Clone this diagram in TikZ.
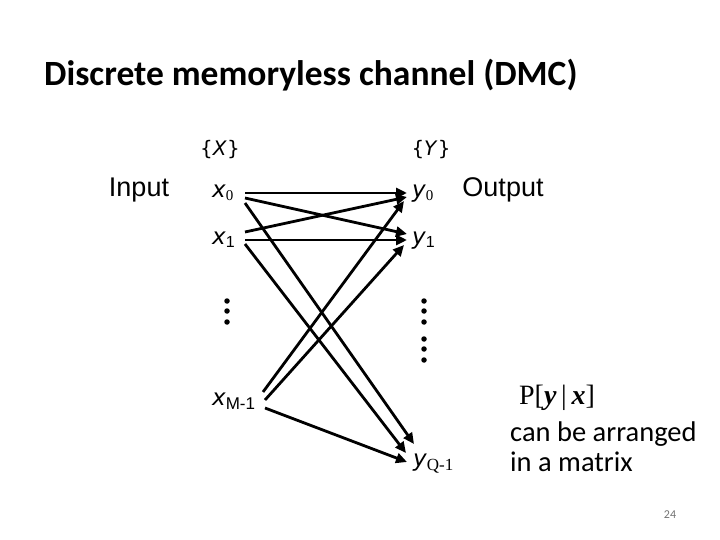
\documentclass[tikz,border=0pt]{standalone}
\usepackage{fontspec}
\setmainfont{Carlito}
\newfontfamily\verd{DejaVu Sans}
\newfontfamily\arialf{Liberation Sans}
\newfontfamily\timesf{Liberation Serif}
\usetikzlibrary{arrows.meta}
\begin{document}
\begin{tikzpicture}[x=1pt,y=-1pt,
  lbl/.style={inner sep=0pt},
  var/.style={inner sep=0pt,font=\verd\fontsize{23}{26}\selectfont\itshape},
  conn/.style={line width=2.8pt,-{Triangle[length=11pt,width=10pt]}},
  dotm/.style={circle,fill=black,inner sep=0pt,minimum size=5.5pt}]
\useasboundingbox (0,0) rectangle (720,540);
\node[lbl,anchor=west,font=\fontsize{35.5}{40}\selectfont\bfseries] (title) at (44,75) {Discrete memoryless channel (DMC)};
\node[lbl,font=\verd\fontsize{20}{23}\selectfont] (X) at (220,150) {\{\textit{X}\}};
\node[lbl,font=\verd\fontsize{20}{23}\selectfont] (Y) at (431,150) {\{\textit{Y}\}};
\node[lbl,font=\arialf\fontsize{27}{30}\selectfont] (in) at (139,190) {Input};
\node[lbl,font=\arialf\fontsize{27}{30}\selectfont] (out) at (503,190) {Output};
\node[var,anchor=base west] (x0) at (212,198) {x\raisebox{-3pt}{\timesf\upshape\fontsize{15}{17}\selectfont 0}};
\node[var,anchor=base west] (x1) at (212,244) {x\raisebox{-3pt}{\arialf\upshape\fontsize{16}{18}\selectfont 1}};
\node[var,anchor=base west] (xm) at (212,405) {x\raisebox{-4pt}{\arialf\upshape\fontsize{17}{19}\selectfont M-1}};
\node[var,anchor=base west] (y0) at (412,198) {y\raisebox{-3pt}{\timesf\upshape\fontsize{15}{17}\selectfont 0}};
\node[var,anchor=base west] (y1) at (412,244) {y\raisebox{-3pt}{\arialf\upshape\fontsize{16}{18}\selectfont 1}};
\node[var,anchor=base west] (yq) at (413,466) {y\raisebox{-4pt}{\timesf\upshape\fontsize{17}{19}\selectfont Q-1}};
\node[lbl,font=\timesf\fontsize{28}{31}\selectfont] (P) at (557,398) {P[\textbf{\textit{y}}\,|\,\textbf{\textit{x}}]};
\node[lbl,anchor=north west,align=left,font=\fontsize{28.5}{29.5}\selectfont] (note) at (510,422) {can be arranged\\in a matrix};
\node[lbl,font=\fontsize{12}{14}\selectfont,text=black!55] (pg) at (670,515) {24};
% ports
\coordinate (a1) at (245,193); \coordinate (b1) at (407,193);
\coordinate (a2) at (245,198); \coordinate (b2) at (407,234);
\coordinate (a3) at (245,232); \coordinate (b3) at (407,197);
\coordinate (a4) at (245,240); \coordinate (b4) at (407,240);
\coordinate (a5) at (245,203); \coordinate (b5) at (414,444);
\coordinate (a6) at (245,244); \coordinate (b6) at (406,453);
\coordinate (a7) at (263,392); \coordinate (b7) at (404,201);
\coordinate (a8) at (265,400); \coordinate (b8) at (404,245);
\coordinate (a9) at (265,408); \coordinate (b9) at (407,462);
\foreach \i in {1,...,9} \draw[conn] (a\i) -- (b\i);
% dots
\foreach \yy [count=\k] in {301,311,322} \node[dotm] (ld\k) at (227,\yy) {};
\foreach \yy [count=\k] in {301,311,322,339,349,360} \node[dotm] (rd\k) at (424,\yy) {};
\end{tikzpicture}
\end{document}
